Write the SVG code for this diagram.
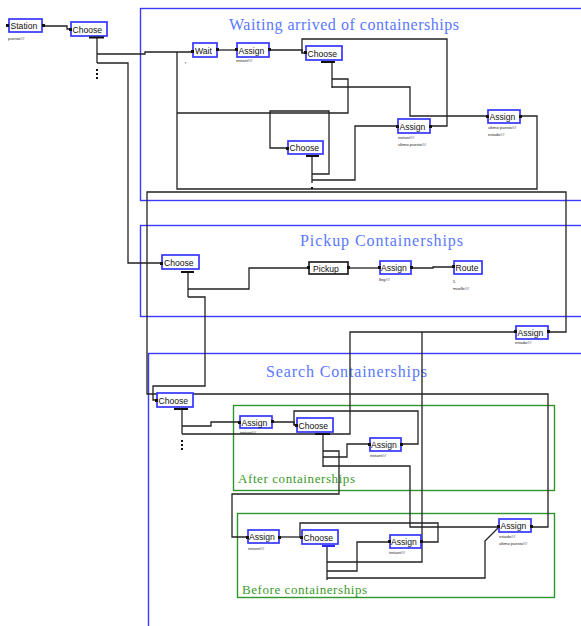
<svg xmlns="http://www.w3.org/2000/svg" width="581" height="626" viewBox="0 0 581 626">
<style>
.bg{fill:#fff}
.reg{fill:none;stroke:#3a3aff;stroke-width:1.4}
.sub{fill:none;stroke:#2e962e;stroke-width:1.4}
.rt{font-family:"Liberation Serif","Times New Roman",serif;font-size:16px;fill:#5a78ff}
.st{font-family:"Liberation Serif","Times New Roman",serif;font-size:13px;fill:#3a9a2a}
.box{fill:#fff;stroke:#3535ff;stroke-width:1.7}
.pbox{fill:#fff;stroke:#222;stroke-width:1.7}
.t{font-family:"Liberation Sans",Arial,sans-serif;font-size:8.6px;fill:#111}
.tiny{font-family:"Liberation Sans",Arial,sans-serif;font-size:4px;fill:#222}
.cn{fill:none;stroke:#222;stroke-width:1.3}
.port{fill:#111}
.bar{stroke:#111;stroke-width:2}
</style>
<rect class="bg" x="0" y="0" width="581" height="626"/>
<g id="regions">
<rect class="reg" x="140.5" y="8.5" width="460" height="192"/>
<text class="rt" x="229" y="30" textLength="230" lengthAdjust="spacing">Waiting arrived of containerships</text>
<rect class="reg" x="140.5" y="225.5" width="460" height="91"/>
<text class="rt" x="300" y="246" textLength="163" lengthAdjust="spacing">Pickup Containerships</text>
<rect class="reg" x="148.5" y="353.5" width="452" height="290"/>
<text class="rt" x="266" y="377" textLength="161" lengthAdjust="spacing">Search Containerships</text>
<rect class="sub" x="233.5" y="405.5" width="321" height="85"/>
<text class="st" x="238" y="483" textLength="117" lengthAdjust="spacing">After containerships</text>
<rect class="sub" x="237.5" y="513.5" width="317" height="84"/>
<text class="st" x="242" y="594" textLength="125" lengthAdjust="spacing">Before containerships</text>
</g>
<g id="connectors">
<path class="cn" d="M43,26 H67 V29 H71"/>
<path class="cn" d="M97,37 V63"/>
<path class="cn" d="M97,54 H145 V52 H193"/>
<path class="cn" d="M97,63 H128 V263 H162"/>
<path class="cn" d="M217,50 H237"/>
<path class="cn" d="M269,50 H302 V53 H306"/>
<path class="cn" d="M332,62 V88"/>
<path class="cn" d="M332,79 H348 V113 H177"/>
<path class="cn" d="M520,116 H537 V189 H177 V52"/>
<path class="cn" d="M332,87 H410 V116 H488"/>
<path class="cn" d="M430,126 H447 V39 H302 V53"/>
<path class="cn" d="M312,156 V183"/>
<path class="cn" d="M312,174 H329 V111 H270 V148 H288"/>
<path class="cn" d="M312,180 H355 V126 H398"/>
<path class="cn" d="M531,527 H548 V394 H147 V192 H566 V332 H548"/>
<path class="cn" d="M188,272 V297"/>
<path class="cn" d="M188,289 H249 V268 H309"/>
<path class="cn" d="M188,297 H205 V386 H153 V400 H157"/>
<path class="cn" d="M348,268 H380"/>
<path class="cn" d="M411,268 H433 V267 H454"/>
<path class="cn" d="M182,434 H350 V332 H516"/>
<path class="cn" d="M327,562 H422 V332"/>
<path class="cn" d="M182,409 V434"/>
<path class="cn" d="M182,426 H211 V422 H240"/>
<path class="cn" d="M272,422 H294 V425 H297"/>
<path class="cn" d="M401,444 H418 V411 H294 V425"/>
<path class="cn" d="M323,434 V467"/>
<path class="cn" d="M323,451 H339 V494 H232 V537 H248"/>
<path class="cn" d="M323,457 H347 V444 H370"/>
<path class="cn" d="M323,466 H410 V527 H499"/>
<path class="cn" d="M279,537 H302"/>
<path class="cn" d="M327,546 V580"/>
<path class="cn" d="M327,571 H357 V542 H390"/>
<path class="cn" d="M327,578 H485 V541 L499,527"/>
<path class="cn" d="M421,542 H438 V523 H300 V537 H302"/>
<rect class="port" x="96" y="69" width="2" height="2"/>
<rect class="port" x="96" y="73" width="2" height="2"/>
<rect class="port" x="96" y="77" width="2" height="2"/>
<rect class="port" x="181" y="440" width="2" height="2"/>
<rect class="port" x="181" y="444" width="2" height="2"/>
<rect class="port" x="181" y="448" width="2" height="2"/>
<rect class="port" x="311" y="187" width="2" height="2"/>
</g>
<g id="station">
<rect class="box" x="9" y="19" width="33" height="13"/>
<text class="t" x="10.5" y="29">Station</text>
<rect class="port" x="6" y="24" width="3" height="3"/>
<rect class="port" x="42" y="24" width="3" height="3"/>
<text class="tiny" x="8" y="40">puesto##</text>
</g>
<g id="choose1">
<rect class="box" x="71" y="22" width="36" height="14"/>
<text class="t" x="72.5" y="32.5">Choose</text>
<rect class="port" x="69" y="28" width="3" height="3"/>
<line class="bar" x1="89" y1="37.5" x2="104" y2="37.5"/>
</g>
<g id="wait">
<rect class="box" x="193" y="43" width="24" height="14"/>
<text class="t" x="195" y="53.5">Wait</text>
<rect class="port" x="191" y="50" width="3" height="3"/>
<rect class="port" x="216" y="48" width="3" height="3"/>
<text class="tiny" x="185" y="64">r</text>
</g>
<g id="assign1">
<rect class="box" x="237" y="43" width="32" height="14"/>
<text class="t" x="238.5" y="53.5">Assign</text>
<rect class="port" x="235" y="48" width="3" height="3"/>
<rect class="port" x="268" y="48" width="3" height="3"/>
<text class="tiny" x="236" y="62">instant##</text>
</g>
<g id="choose2">
<rect class="box" x="306" y="46" width="36" height="14"/>
<text class="t" x="307.5" y="56.5">Choose</text>
<rect class="port" x="304" y="51" width="3" height="3"/>
<line class="bar" x1="321" y1="62" x2="335" y2="62"/>
</g>
<g id="assign2">
<rect class="box" x="398" y="119" width="32" height="14"/>
<text class="t" x="399.5" y="129.5">Assign</text>
<rect class="port" x="396" y="125" width="3" height="3"/>
<rect class="port" x="429" y="125" width="3" height="3"/>
<text class="tiny" x="398" y="139">instant##</text>
<text class="tiny" x="398" y="146">ultimo puesto##</text>
</g>
<g id="assign3">
<rect class="box" x="488" y="110" width="32" height="13"/>
<text class="t" x="489.5" y="120">Assign</text>
<rect class="port" x="486" y="115" width="3" height="3"/>
<rect class="port" x="519" y="115" width="3" height="3"/>
<text class="tiny" x="488" y="129">ultimo puesto##</text>
<text class="tiny" x="488" y="136">estado##</text>
</g>
<g id="choose3">
<rect class="box" x="288" y="141" width="35" height="13"/>
<text class="t" x="289.5" y="151">Choose</text>
<rect class="port" x="286" y="147" width="3" height="3"/>
<line class="bar" x1="306" y1="156" x2="319" y2="156"/>
</g>
<g id="choose-pickup">
<rect class="box" x="162" y="255" width="37" height="14"/>
<text class="t" x="164" y="265.5">Choose</text>
<rect class="port" x="160" y="262" width="3" height="3"/>
<line class="bar" x1="181" y1="272" x2="194" y2="272"/>
</g>
<g id="pickup">
<rect class="pbox" x="309" y="262" width="39" height="12"/>
<text class="t" x="313" y="271.5">Pickup</text>
<rect class="port" x="307" y="266" width="3" height="3"/>
<rect class="port" x="347" y="266" width="3" height="3"/>
</g>
<g id="assign-pickup">
<rect class="box" x="380" y="261" width="31" height="13"/>
<text class="t" x="381" y="271">Assign</text>
<rect class="port" x="378" y="266" width="3" height="3"/>
<rect class="port" x="410" y="266" width="3" height="3"/>
<text class="tiny" x="379" y="281">lleg##</text>
</g>
<g id="route">
<rect class="box" x="454" y="261" width="28" height="13"/>
<text class="t" x="455.5" y="271">Route</text>
<rect class="port" x="452" y="265" width="3" height="3"/>
<text class="tiny" x="453" y="283">5</text>
<text class="tiny" x="453" y="290">muelle##</text>
</g>
<g id="assign4">
<rect class="box" x="516" y="326" width="32" height="13"/>
<text class="t" x="517.5" y="336">Assign</text>
<rect class="port" x="514" y="330" width="3" height="3"/>
<rect class="port" x="547" y="330" width="3" height="3"/>
<text class="tiny" x="515" y="344">estado##</text>
</g>
<g id="choose-search">
<rect class="box" x="157" y="393" width="36" height="14"/>
<text class="t" x="158.5" y="403.5">Choose</text>
<rect class="port" x="155" y="399" width="3" height="3"/>
<line class="bar" x1="174" y1="409" x2="188" y2="409"/>
</g>
<g id="assign5">
<rect class="box" x="240" y="416" width="32" height="12"/>
<text class="t" x="241.5" y="425.5">Assign</text>
<rect class="port" x="238" y="421" width="3" height="3"/>
<rect class="port" x="271" y="420" width="3" height="3"/>
<text class="tiny" x="240" y="434">instant##</text>
</g>
<g id="choose5">
<rect class="box" x="297" y="418" width="36" height="14"/>
<text class="t" x="298.5" y="428.5">Choose</text>
<rect class="port" x="295" y="424" width="3" height="3"/>
<line class="bar" x1="315" y1="434" x2="330" y2="434"/>
</g>
<g id="assign6">
<rect class="box" x="370" y="438" width="31" height="13"/>
<text class="t" x="371" y="448">Assign</text>
<rect class="port" x="368" y="443" width="3" height="3"/>
<rect class="port" x="400" y="443" width="3" height="3"/>
<text class="tiny" x="370" y="457">instant##</text>
</g>
<g id="assign7">
<rect class="box" x="248" y="530" width="31" height="13"/>
<text class="t" x="249" y="540">Assign</text>
<rect class="port" x="246" y="536" width="3" height="3"/>
<rect class="port" x="278" y="536" width="3" height="3"/>
<text class="tiny" x="248" y="550">instant##</text>
</g>
<g id="choose7">
<rect class="box" x="302" y="530" width="36" height="14"/>
<text class="t" x="303.5" y="540.5">Choose</text>
<rect class="port" x="300" y="536" width="3" height="3"/>
<line x1="322" y1="546" x2="335" y2="546" stroke="#2a2aff" stroke-width="2"/>
</g>
<g id="assign8">
<rect class="box" x="390" y="535" width="31" height="13"/>
<text class="t" x="391" y="545">Assign</text>
<rect class="port" x="388" y="540" width="3" height="3"/>
<rect class="port" x="420" y="540" width="3" height="3"/>
<text class="tiny" x="389" y="554">instant##</text>
</g>
<g id="assign9">
<rect class="box" x="499" y="519" width="32" height="13"/>
<text class="t" x="500.5" y="529">Assign</text>
<rect class="port" x="497" y="525" width="3" height="3"/>
<rect class="port" x="530" y="525" width="3" height="3"/>
<text class="tiny" x="499" y="538">estado##</text>
<text class="tiny" x="499" y="545">ultimo puesto##</text>
</g>
</svg>
